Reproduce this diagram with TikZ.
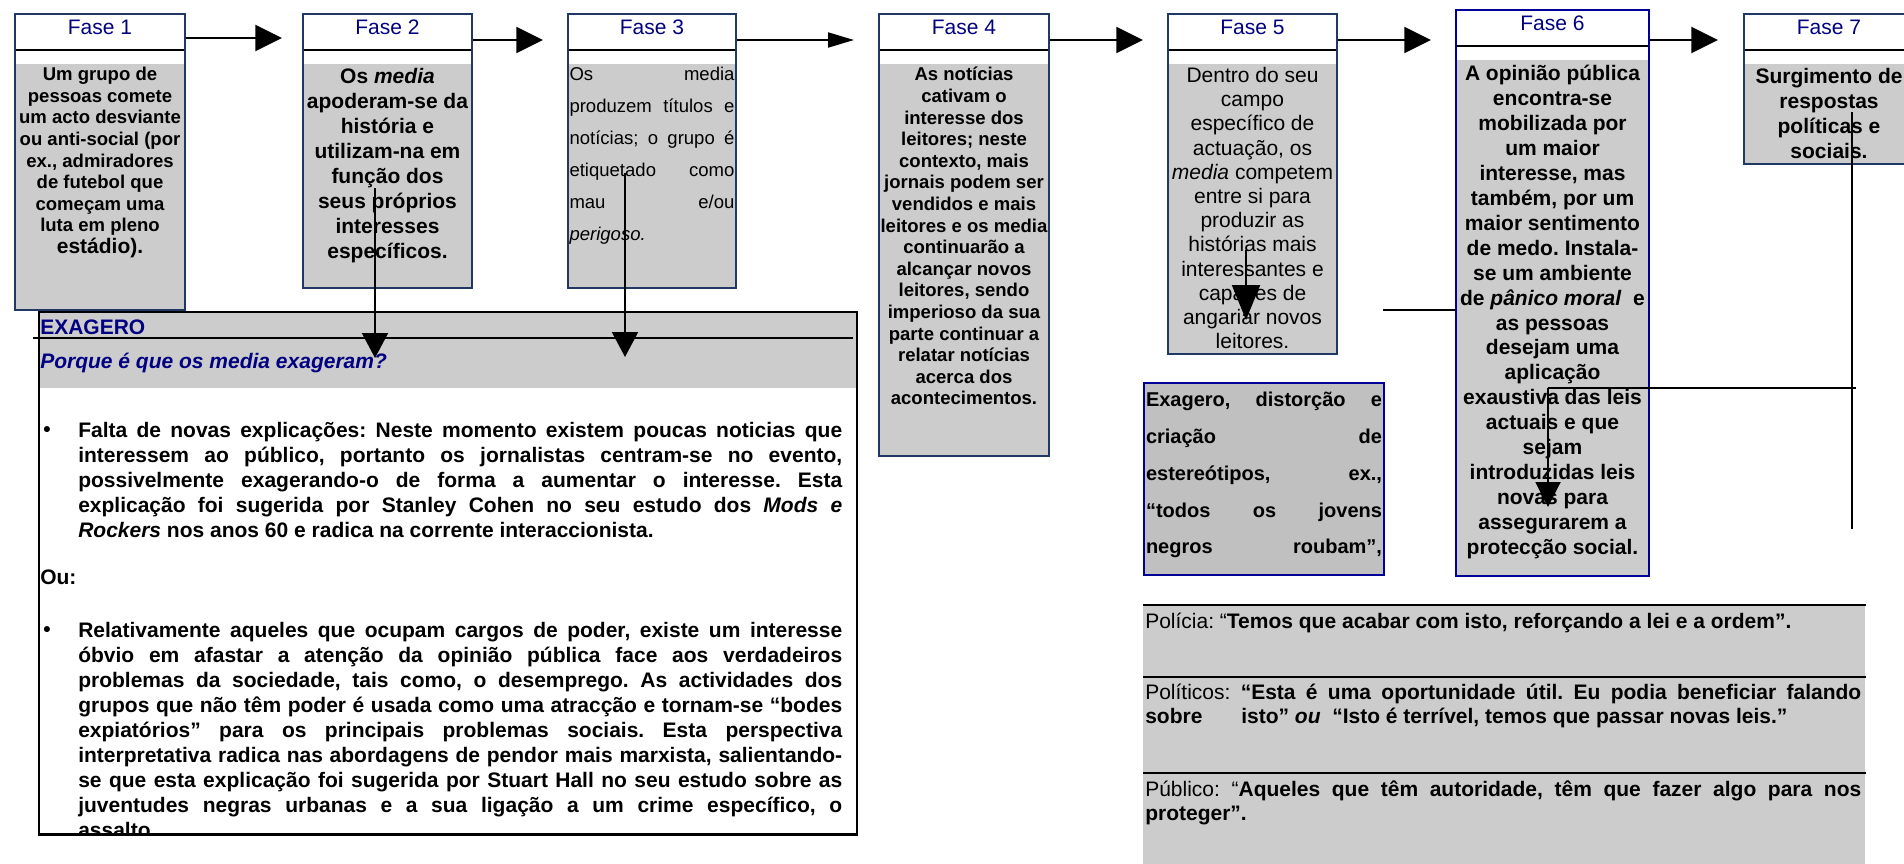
\documentclass[tikz,border=0pt]{standalone}
\usepackage{fontspec}
\setmainfont{Liberation Sans}
\usetikzlibrary{positioning, arrows.meta}

\definecolor{boxgray}{RGB}{204,204,204}
\definecolor{distgray}{RGB}{192,192,192}
\definecolor{fasenavy}{RGB}{31,56,100}
\definecolor{f6blue}{RGB}{0,0,153}
\definecolor{titlenavy}{RGB}{0,0,128}

% one justified line, stretched to the full width of the node
\newcommand{\jline}[1]{\makebox[\linewidth][s]{#1}\par}

\tikzset{
    fase/.style={draw=fasenavy, line width=1.5pt, fill=boxgray, anchor=north west, inner sep=0pt,
        path picture={
            \fill[white] (path picture bounding box.north west) rectangle ([yshift=-37.5pt]path picture bounding box.north east);
            \draw[black, line width=1.5pt] ([yshift=-27pt]path picture bounding box.north west) -- ([yshift=-27pt]path picture bounding box.north east);
        }}, % phase box: white title strip, black rule, grey body
    fasetitle/.style={text=titlenavy, font=\fontsize{15.75}{18}\selectfont, inner sep=0pt}, % "Fase n"
    bsmall/.style={font=\bfseries\fontsize{13.9}{16.2}\selectfont, align=center, inner sep=0pt},
    bbig/.style={font=\bfseries\fontsize{15.75}{18.7}\selectfont, align=center, inner sep=0pt},
    rbig/.style={font=\fontsize{15.75}{18.15}\selectfont, align=center, inner sep=0pt},
    rjust/.style={font=\fontsize{13.9}{24}\selectfont, text width=123.75pt, align=justify, inner sep=0pt},
    exabox/.style={draw=black, line width=1.5pt, fill=white, anchor=north west, inner sep=0pt,
        path picture={
            \fill[boxgray] (path picture bounding box.north west) rectangle ([yshift=-57pt]path picture bounding box.north east);
        }}, % the EXAGERO table
    exahead/.style={text=titlenavy, font=\bfseries\fontsize{15.75}{18}\selectfont, anchor=west, inner sep=0pt},
    bullettext/.style={font=\bfseries\fontsize{15.75}{18.75}\selectfont, text width=573pt, align=justify, anchor=north west, inner sep=0pt},
    bulletdot/.style={font=\bfseries\fontsize{15.75}{18}\selectfont, inner sep=0pt},
    distbox/.style={draw=f6blue, line width=1.5pt, fill=distgray, anchor=north west, inner sep=0pt},
    disttext/.style={font=\bfseries\fontsize{15}{27.6}\selectfont, text width=177pt, align=justify, inner sep=0pt},
    polbox/.style={fill=boxgray, anchor=north west, inner sep=0pt},
    poltext/.style={font=\fontsize{15.75}{18}\selectfont, text width=537pt, align=justify, anchor=north west, inner sep=0pt},
    rule/.style={line width=1.5pt}, % plain black connector or rule
    bigarrow/.style={rule, -{Triangle[length=20pt, width=19.5pt]}},
    slimarrow/.style={rule, -{Triangle[length=19.5pt, width=11.25pt]}},
    downarrow/.style={rule, -{Triangle[length=18.75pt, width=19.5pt]}},
}

\begin{document}
\frenchspacing
\begin{tikzpicture}[x=0.75pt, y=-0.75pt]
    \path[use as bounding box, fill=white] (0,0) rectangle (1904,864);

    % the seven phases
    \node[fase, minimum width=127.5pt, minimum height=222pt] (f1) at (14,13) {};
    \node[fase, minimum width=126.75pt, minimum height=205.5pt] (f2) at (302,13) {};
    \node[fase, minimum width=126pt, minimum height=205.5pt] (f3) at (567,13) {};
    \node[fase, minimum width=127.5pt, minimum height=331.5pt] (f4) at (878,13) {};
    \node[fase, minimum width=126.75pt, minimum height=255pt] (f5) at (1167,13) {};
    \node[fase, draw=f6blue, minimum width=144.75pt, minimum height=424.5pt] (f6) at (1455,9) {};
    \node[fase, minimum width=127.5pt, minimum height=112.5pt] (f7) at (1743,13) {};

    \node[fasetitle] (t1) at ([yshift=-10.5pt]f1.north) {Fase 1};
    \node[fasetitle] (t2) at ([yshift=-10.5pt]f2.north) {Fase 2};
    \node[fasetitle] (t3) at ([yshift=-10.5pt]f3.north) {Fase 3};
    \node[fasetitle] (t4) at ([yshift=-10.5pt]f4.north) {Fase 4};
    \node[fasetitle] (t5) at ([yshift=-10.5pt]f5.north) {Fase 5};
    \node[fasetitle] (t6) at ([yshift=-10.5pt]f6.north) {Fase 6};
    \node[fasetitle] (t7) at ([yshift=-10.5pt]f7.north) {Fase 7};

    \node[bsmall, below=40.5pt of f1.north] (x1) {Um grupo de\\pessoas comete\\um acto desviante\\ou anti-social (por\\ex., admiradores\\de futebol que\\começam uma\\luta em pleno\\{\fontsize{15.75}{18}\selectfont estádio).}};
    \node[bbig, below=41.25pt of f2.north] (x2) {Os \textit{media}\\apoderam-se da\\história e\\utilizam-na em\\função dos\\seus próprios\\interesses\\específicos.};
    \node[rjust, below=40.5pt of f3.north] (x3) {\jline{Os media}\jline{produzem títulos e}\jline{notícias; o grupo é}\jline{etiquetado como}\jline{mau e/ou}\textit{perigoso.}};
    \node[bsmall, below=40.5pt of f4.north] (x4) {As notícias\\cativam o\\interesse dos\\leitores; neste\\contexto, mais\\jornais podem ser\\vendidos e mais\\leitores e os media\\continuarão a\\alcançar novos\\leitores, sendo\\imperioso da sua\\parte continuar a\\relatar notícias\\acerca dos\\acontecimentos.};
    \node[rbig, below=40.5pt of f5.north] (x5) {Dentro do seu\\campo\\específico de\\actuação, os\\\textit{media} competem\\entre si para\\produzir as\\histórias mais\\interessantes e\\capazes de\\angariar novos\\leitores.};
    \node[bbig, below=42pt of f6.north] (x6) {A opinião pública\\encontra-se\\mobilizada por\\um maior\\interesse, mas\\também, por um\\maior sentimento\\de medo. Instala-\\se um ambiente\\de \textit{pânico moral}\ \ e\\as pessoas\\desejam uma\\aplicação\\exaustiva das leis\\actuais e que\\sejam\\introduzidas leis\\novas para\\assegurarem a\\protecção social.};
    \node[bbig, below=41.25pt of f7.north] (x7) {Surgimento de\\respostas\\políticas e\\sociais.};

    % the EXAGERO table
    \node[exabox, minimum width=613.5pt, minimum height=391.5pt] (exa) at (38,311) {};
    \draw[rule] ([shift={(-5,27)}]exa.north west) -- ([shift={(-5,27)}]exa.north east);
    \node[exahead] (exat) at (40,327) {EXAGERO};
    \node[exahead, font=\bfseries\itshape\fontsize{15.75}{18}\selectfont] (exaq) at (40,363) {Porque é que os media exageram?};
    \node[exahead, text=black] (ou) at (40,577) {Ou:};
    \node[bulletdot] (dot1) at (47,432) {\textbullet};
    \node[bulletdot] (dot2) at (47,632) {\textbullet};
    \node[bullettext] (bul1) at (78,422) {\jline{Falta de novas explicações: Neste momento existem poucas noticias que}\jline{interessem ao público, portanto os jornalistas centram-se no evento,}\jline{possivelmente exagerando-o de forma a aumentar o interesse. Esta}\jline{explicação foi sugerida por Stanley Cohen no seu estudo dos \textit{Mods e}}\textit{Rockers} nos anos 60 e radica na corrente interaccionista.};
    \begin{scope}
        \clip (exa.north west) rectangle (exa.south east);
        \node[bullettext] (bul2) at (78,622) {\jline{Relativamente aqueles que ocupam cargos de poder, existe um interesse}\jline{óbvio em afastar a atenção da opinião pública face aos verdadeiros}\jline{problemas da sociedade, tais como, o desemprego. As actividades dos}\jline{grupos que não têm poder é usada como uma atracção e tornam-se “bodes}\jline{expiatórios” para os principais problemas sociais. Esta perspectiva}\jline{interpretativa radica nas abordagens de pendor mais marxista, salientando-}\jline{se que esta explicação foi sugerida por Stuart Hall no seu estudo sobre as}\jline{juventudes negras urbanas e a sua ligação a um crime específico, o}assalto.};
    \end{scope}
    \draw[rule] (exa.south west) -- (exa.south east);

    % distortion box and reactions
    \node[distbox, minimum width=180pt, minimum height=144pt] (dist) at (1143,382) {};
    \node[disttext, below=7.5pt of dist.north] (distx) {\jline{Exagero, distorção e}\jline{criação de}\jline{estereótipos, ex.,}\jline{“todos os jovens}\jline{negros roubam”,}};

    \node[polbox, minimum width=541.5pt, minimum height=196.5pt] (pol) at (1143,605) {};
    \draw[rule] (pol.north west) -- (pol.north east);
    \draw[rule] ([yshift=-54pt]pol.north west) -- ([yshift=-54pt]pol.north east);
    \draw[rule] ([yshift=-126pt]pol.north west) -- ([yshift=-126pt]pol.north east);
    \node[poltext] (polx) at (1145,613) {Polícia: “\textbf{Temos que acabar com isto, reforçando a lei e a ordem”.}};
    \node[poltext] (ptcx) at (1145,684) {\jline{Políticos: \textbf{“Esta é uma oportunidade útil. Eu podia beneficiar falando}}\makebox[72pt][l]{\textbf{sobre}}\textbf{isto” \textit{ou}\ \ “Isto é terrível, temos que passar novas leis.”}};
    \node[poltext] (pubx) at (1145,781) {\jline{Público: “\textbf{Aqueles que têm autoridade, têm que fazer algo para nos}}\textbf{proteger”.}};

    % arrows between the phases
    \coordinate (a12) at (282,38);
    \coordinate (a23) at (543,40);
    \coordinate (a34) at (854,40);
    \coordinate (a45) at (1143,40);
    \coordinate (a56) at (1431,40);
    \coordinate (a67) at (1718,40);
    \draw[bigarrow] (f1.east |- a12) -- (a12);
    \draw[bigarrow] (f2.east |- a23) -- (a23);
    \draw[slimarrow] (f3.east |- a34) -- (a34);
    \draw[bigarrow] (f4.east |- a45) -- (a45);
    \draw[bigarrow] (f5.east |- a56) -- (a56);
    \draw[bigarrow] (f6.east |- a67) -- (a67);

    % arrows and lines going down
    \coordinate (d2) at (375,188);
    \coordinate (d3) at (625,173);
    \draw[downarrow] (d2) -- (d2 |- 0,358);
    \draw[downarrow] (d3) -- (d3 |- 0,357);
    \coordinate (d5) at (1246,250);
    \draw[rule, -{Triangle[length=26.25pt, width=21pt]}] (d5) -- (d5 |- 0,320);
    \coordinate (c56) at (1383,310);
    \draw[rule] (c56) -- (c56 -| f6.west);
    \coordinate (c7a) at (1852,112);
    \coordinate (c7b) at (1852,529);
    \draw[rule] (c7a) -- (c7b);
    \coordinate (c7c) at (1548,388);
    \coordinate (c7d) at (1856,388);
    \draw[rule] (c7c) -- (c7d);
    \draw[rule, -{Triangle[length=18.75pt, width=18.75pt]}] (c7c) -- (c7c |- 0,507);
\end{tikzpicture}
\end{document}
